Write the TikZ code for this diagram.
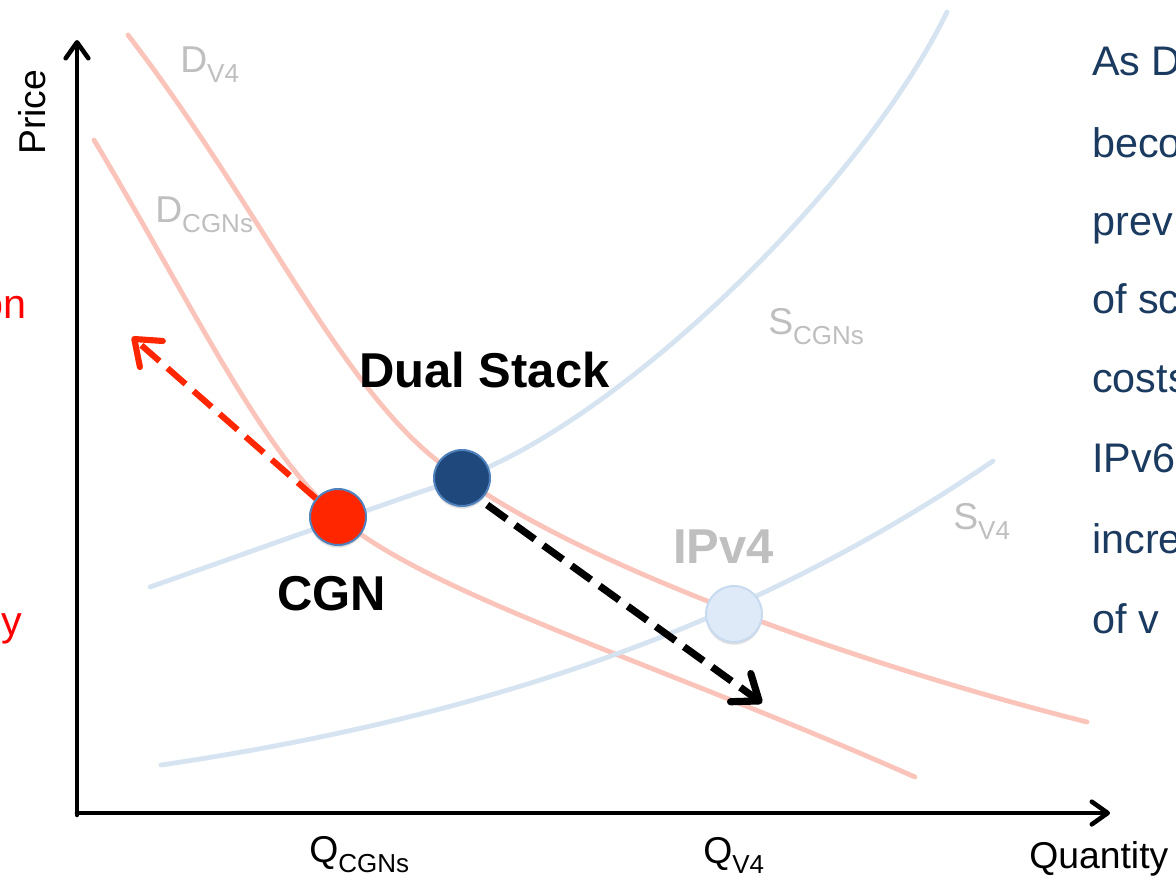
\documentclass[tikz,border=0pt]{standalone}
\usepackage{fontspec}
\setmainfont{Liberation Sans}
\usetikzlibrary{arrows.meta,shadows}
\definecolor{pinkc}{RGB}{250,196,186}
\definecolor{bluec}{RGB}{214,228,242}
\definecolor{lgray}{RGB}{191,191,191}
\definecolor{cgnred}{RGB}{255,38,0}
\definecolor{dsblue}{RGB}{31,73,125}
\definecolor{ipfill}{RGB}{222,234,247}
\definecolor{ipedge}{RGB}{200,218,240}
\definecolor{edgeblue}{RGB}{79,129,189}
\definecolor{navyhand}{RGB}{27,58,96}
\newcommand\sublab[2]{#1\raisebox{-7.5pt}{\fontsize{19.5}{20}\selectfont #2}}
\begin{document}
\begin{tikzpicture}[x=0.75pt,y=-0.75pt,
  demand/.style={pinkc,line width=3.6pt,line cap=round},
  supply/.style={bluec,line width=3.6pt,line cap=round},
  axisline/.style={line width=3.4pt,line cap=round,-{Straight Barb[round,length=12pt,width=17pt]}},
  curvelab/.style={anchor=base west,inner sep=0,lgray,font=\fontsize{28}{30}\selectfont},
  axlab/.style={anchor=base west,inner sep=0,black,font=\fontsize{28}{30}\selectfont},
  biglab/.style={anchor=base west,inner sep=0,font=\fontsize{36.7}{38}\selectfont\bfseries},
  eqpt/.style={circle,minimum size=42pt,inner sep=0,line width=1.5pt,
    drop shadow={opacity=0.25,shadow xshift=0pt,shadow yshift=-2pt}},
  hand/.style={anchor=base west,inner sep=0,navyhand,font=\fontsize{31}{32}\selectfont},
  redhand/.style={anchor=base east,inner sep=0,red,font=\fontsize{31}{32}\selectfont},
  moveto/.style={line width=#1,dash pattern=on 18pt off 8pt,
    -{Straight Barb[round,length=17pt,width=26pt]}}
]
\useasboundingbox (0,0) rectangle (1176,879);
\fill[white] (0,0) rectangle (1176,879);

% demand curves
\draw[demand] (128,35) .. controls (270,220) and (350,410) .. (462,478)
                        .. controls (600,575) and (880,670) .. (1087,722);
\draw[demand] (94,140) .. controls (190,300) and (260,450) .. (338,517)
                       .. controls (430,595) and (650,660) .. (915,777);
% supply curves
\draw[supply] (150,587) .. controls (250,552) and (380,505) .. (462,478)
                        .. controls (620,420) and (860,190) .. (947,12);
\draw[supply] (161,765) .. controls (500,715) and (760,620) .. (993,461);

% axes
\coordinate (origin) at (77,815);
\coordinate (ytip) at (77,40);
\coordinate (xtip) at (1110,813);
\draw[axisline] (origin) -- (ytip);
\draw[axisline] (77,813) -- (xtip);

% axis labels
\node[axlab,rotate=90] (price) at (45,155) {Price};
\node[axlab] (quantity) at (1029,868) {Quantity};
\node[axlab] (qcgn) at (309,862) {\sublab{Q}{CGNs}};
\node[axlab] (qv4) at (703,863) {\sublab{Q}{V4}};

% curve labels
\node[curvelab] (ldv4) at (180,72) {\sublab{D}{V4}};
\node[curvelab] (ldcgn) at (155,222) {\sublab{D}{CGNs}};
\node[curvelab] (lscgn) at (768,334) {\sublab{S}{CGNs}};
\node[curvelab] (lsv4) at (953,529) {\sublab{S}{V4}};

% equilibrium points
\node[eqpt,fill=ipfill,draw=ipedge] (ipv4) at (734,614) {};
\node[eqpt,fill=dsblue,draw=edgeblue] (ds) at (462,478) {};
\node[eqpt,fill=cgnred,draw=edgeblue] (cgn) at (338,517) {};

% point labels
\node[biglab] (lds) at (359,387) {Dual Stack};
\node[biglab] (lcgn) at (277,610) {CGN};
\node[biglab,lgray] (lipv4) at (673,563) {IPv4};

% movement arrows
\coordinate (redtip) at (132,337);
\coordinate (blacktip) at (762,703);
\draw[moveto=4.6pt,cgnred] (cgn.140) -- (redtip);
\draw[moveto=5.4pt,black,shorten <=6pt] (ds.-50) -- (blacktip);

% handwritten notes (cut by the page edge, as in the original)
\node[redhand] (h1) at (27,318) {on};
\node[redhand] (h2) at (22,635) {y};
\node[hand] (n1) at (1092,75) {As D};
\node[hand] (n2) at (1092,157) {beco};
\node[hand] (n3) at (1092,235) {prev};
\node[hand] (n4) at (1092,313) {of sc};
\node[hand] (n5) at (1092,392) {costs};
\node[hand] (n6) at (1092,472) {IPv6};
\node[hand] (n7) at (1092,553) {incre};
\node[hand] (n8) at (1092,633) {of v};
\end{tikzpicture}
\end{document}
